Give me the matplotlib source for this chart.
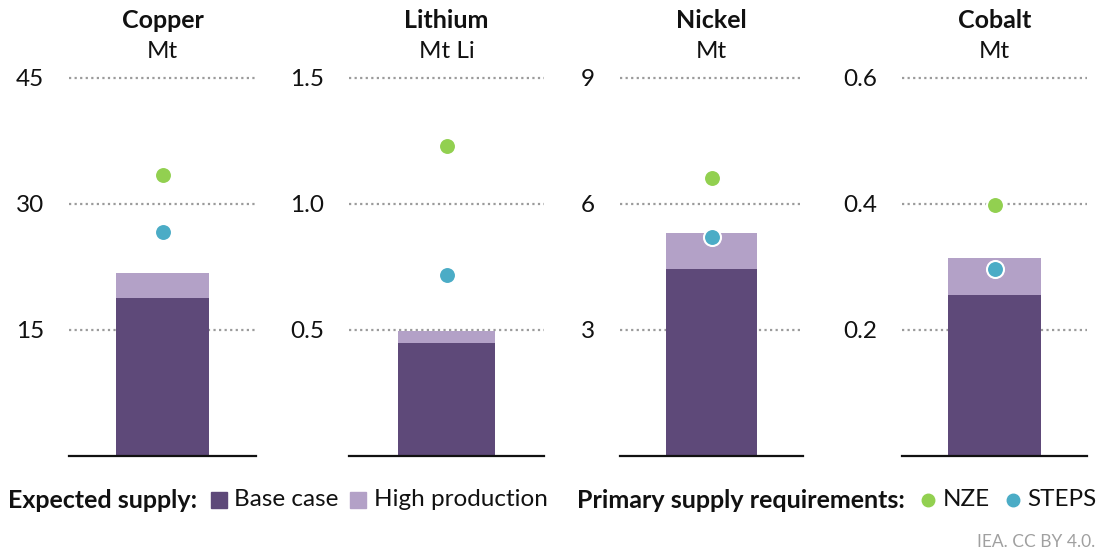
import matplotlib
matplotlib.use("Agg")
import matplotlib.pyplot as plt
from matplotlib.patches import Rectangle
from matplotlib.lines import Line2D

plt.rcParams['font.family'] = ['Lato', 'DejaVu Sans']

# ---- data ----
minerals = ["Copper", "Lithium", "Nickel", "Cobalt"]
units = ["Mt", "Mt Li", "Mt", "Mt"]
base_case = [18.85, 0.449, 4.46, 0.256]
high_production = [21.8, 0.498, 5.32, 0.314]
nze = [33.4, 1.23, 6.63, 0.399]
steps = [26.7, 0.72, 5.22, 0.297]
y_max = [45, 1.5, 9, 0.6]
y_ticks = [[15, 30, 45], [0.5, 1.0, 1.5], [3, 6, 9], [0.2, 0.4, 0.6]]
y_ticklabels = [["15", "30", "45"], ["0.5", "1.0", "1.5"], ["3", "6", "9"], ["0.2", "0.4", "0.6"]]

# ---- style ----
DARK = "#5E4979"
LIGHT = "#B3A1C7"
GREEN = "#92D050"
BLUE = "#4BACC6"
GRID = "#9b9b9b"
TXT = "#111111"
FS = 17.5
FSB = 18

W, H = 1104, 555
fig = plt.figure(figsize=(W / 100, H / 100), dpi=100)

panels_px = [(69, 256), (349, 544), (620, 803), (902, 1087)]
y_bottom_px, y_top_px = 456, 78

for i, (x0, x1) in enumerate(panels_px):
    ax = fig.add_axes([x0 / W, (H - y_bottom_px) / H, (x1 - x0) / W, (y_bottom_px - y_top_px) / H])
    ax.set_xlim(-1, 1)
    ax.set_ylim(0, y_max[i])
    for t in y_ticks[i]:
        ax.axhline(t, color=GRID, lw=1.6, ls=(0, (1, 1.5)), zorder=0, clip_on=False)
    ax.bar([0], [high_production[i]], width=1.0, color=LIGHT, zorder=2)
    ax.bar([0], [base_case[i]], width=1.0, color=DARK, zorder=2)
    ax.scatter([0], [nze[i]], s=150, color=GREEN, edgecolor="white", linewidth=1.5, zorder=4, clip_on=False)
    ax.scatter([0], [steps[i]], s=150, color=BLUE, edgecolor="white", linewidth=1.5, zorder=4, clip_on=False)
    ax.axhline(0, color="#111111", lw=1.6, zorder=3, clip_on=False)
    ax.set_yticks(y_ticks[i])
    ax.set_yticklabels(y_ticklabels[i], fontsize=FS, color=TXT)
    ax.tick_params(axis="y", length=0, pad=18)
    ax.set_xticks([])
    for s in ax.spines.values():
        s.set_visible(False)
    ax.patch.set_alpha(0)
    cx = (x0 + x1) / 2 / W
    fig.text(cx, 1 - 21 / H, minerals[i], ha="center", va="center", fontsize=FSB, fontweight="bold", color=TXT)
    fig.text(cx, 1 - 52 / H, units[i], ha="center", va="center", fontsize=FS, color=TXT)

# ---- legend ----
ly = 1 - 500 / H
fig.text(8 / W, ly, "Expected supply:", ha="left", va="center", fontsize=FSB, fontweight="bold", color=TXT)
fig.add_artist(Rectangle((211 / W, 1 - 508 / H), 16 / W, 16 / H, transform=fig.transFigure, color=DARK))
fig.text(234 / W, ly, "Base case", ha="left", va="center", fontsize=FS, color=TXT)
fig.add_artist(Rectangle((350 / W, 1 - 508 / H), 16 / W, 16 / H, transform=fig.transFigure, color=LIGHT))
fig.text(374 / W, ly, "High production", ha="left", va="center", fontsize=FS, color=TXT)
fig.text(577 / W, ly, "Primary supply requirements:", ha="left", va="center", fontsize=FSB, fontweight="bold", color=TXT)
fig.add_artist(Line2D([928 / W], [ly], transform=fig.transFigure, marker="o", markersize=9, color=GREEN, lw=0))
fig.text(943 / W, ly, "NZE", ha="left", va="center", fontsize=FS, color=TXT)
fig.add_artist(Line2D([1013 / W], [ly], transform=fig.transFigure, marker="o", markersize=9, color=BLUE, lw=0))
fig.text(1027 / W, ly, "STEPS", ha="left", va="center", fontsize=FS, color=TXT)

fig.text(1095 / W, 1 - 542 / H, "IEA. CC BY 4.0.", ha="right", va="center", fontsize=12.5, color="#a0a0a0")

fig.savefig("out.png", dpi=100)
